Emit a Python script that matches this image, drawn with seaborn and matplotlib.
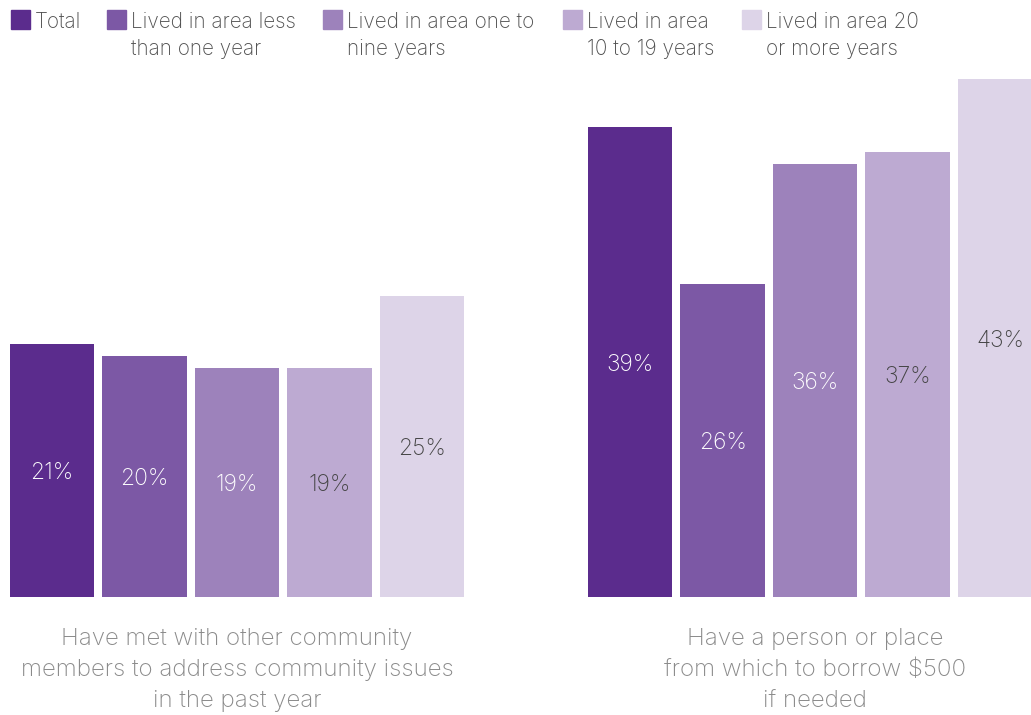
import matplotlib
matplotlib.use("Agg")
import matplotlib.pyplot as plt
from matplotlib.patches import Rectangle
import seaborn as sns
import pandas as pd

# Survey questions (x categories)
questions = [
    "Have met with other community\nmembers to address community issues\nin the past year",
    "Have a person or place\nfrom which to borrow $500\nif needed",
]
# Residence-length groups (hue)
groups = [
    "Total",
    "Lived in area less\nthan one year",
    "Lived in area one to\nnine years",
    "Lived in area\n10 to 19 years",
    "Lived in area 20\nor more years",
]
# Percent answering yes, per group
met_community = [21, 20, 19, 19, 25]
borrow_500 = [39, 26, 36, 37, 43]

colors = ["#5B2C8D", "#7C58A5", "#9D82BB", "#BDAAD2", "#DDD4E8"]
label_colors = ["white", "white", "white", "#444444", "#444444"]

rows = []
for q, vals in zip(questions, [met_community, borrow_500]):
    for g, v in zip(groups, vals):
        rows.append({"question": q, "group": g, "pct": v})
df = pd.DataFrame(rows)

sns.set_theme(style="white")
plt.rcParams["font.family"] = ["Inter", "DejaVu Sans"]

W, H = 1031, 715
fig = plt.figure(figsize=(W / 100, H / 100), dpi=100)
base_px = 597
px_per_pct = 12.04
ax = fig.add_axes([0, (H - base_px) / H, 1, base_px / H])

sns.barplot(
    data=df, x="question", y="pct", hue="group",
    order=questions, hue_order=groups, palette=colors,
    width=0.8, gap=0.09, saturation=1, linewidth=0,
    legend=False, ax=ax,
)

ax.set_xlim(-0.4101, -0.4101 + W / 578)
ax.set_ylim(0, base_px / px_per_pct)
ax.set_xlabel("")
ax.set_ylabel("")
ax.set_yticks([])
sns.despine(ax=ax, left=True, bottom=True)
ax.tick_params(axis="x", length=0, pad=22, labelsize=17.4, labelcolor="#8a8a8a")
for t in ax.get_xticklabels():
    t.set_linespacing(1.53)
    t.set_fontweight("light")

# value labels in the middle of each bar
for gi, cont in enumerate(ax.containers):
    for bar in cont:
        h = bar.get_height()
        ax.text(bar.get_x() + bar.get_width() / 2, h / 2, f"{h:.0f}%",
                ha="center", va="center_baseline", fontsize=16.5, fontweight="light",
                color=label_colors[gi])

# legend: square swatch aligned with the first line of each label
legend_x = [11, 107, 323, 563, 742]
for x0, g, c in zip(legend_x, groups, colors):
    fig.patches.append(Rectangle((x0 / W, 1 - 29 / H), 19 / W, 19 / H,
                                 transform=fig.transFigure, color=c))
    fig.text((x0 + 24) / W, 1 - 12 / H, g, ha="left", va="top",
             fontsize=14.9, fontweight="light", color="#505050", linespacing=1.45)

fig.savefig("out.png", dpi=100)
